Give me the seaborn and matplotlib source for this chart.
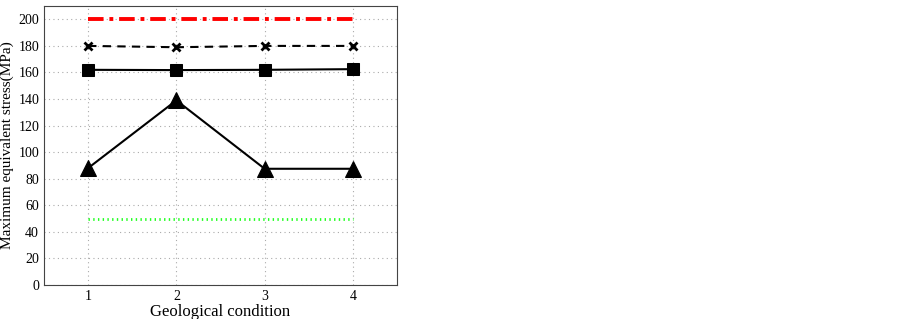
import pandas as pd
import matplotlib.pyplot as plt
import seaborn as sns

conditions = [1, 2, 3, 4]
triangle_vals = [88, 139, 87.5, 87.5]
square_vals = [162, 161.8, 162, 162.5]
cross_vals = [180, 179, 180, 180]
red_vals = [200, 200, 200, 200]
green_vals = [50, 50, 50, 50]

sns.set_style("white")
plt.rcParams["font.family"] = ["Liberation Serif", "DejaVu Serif"]
plt.rcParams["text.color"] = "black"
plt.rcParams["axes.labelcolor"] = "black"

fig = plt.figure(figsize=(9.03, 3.19), dpi=100)
ax = fig.add_axes([0.0487, 0.1066, 0.391, 0.8744])

df = pd.DataFrame({"x": conditions, "tri": triangle_vals, "sq": square_vals,
                   "cr": cross_vals, "red": red_vals, "green": green_vals})

sns.lineplot(data=df, x="x", y="red", ax=ax, color="red", linewidth=2.8,
             linestyle=(0, (4, 1.5, 1, 1.5)))
sns.lineplot(data=df, x="x", y="cr", ax=ax, color="black", linewidth=1.5,
             linestyle=(0, (4, 3)), marker="x", markersize=6, markeredgewidth=2,
             markeredgecolor="black")
sns.lineplot(data=df, x="x", y="sq", ax=ax, color="black", linewidth=1.5,
             marker="s", markersize=8, markeredgecolor="black")
sns.lineplot(data=df, x="x", y="tri", ax=ax, color="black", linewidth=1.5,
             marker="^", markersize=11, markeredgecolor="black")
sns.lineplot(data=df, x="x", y="green", ax=ax, color="#22ff22", linewidth=2,
             linestyle=(0, (0.5, 1.2)))

ax.set_xlim(0.5, 4.5)
ax.set_ylim(0, 210)
ax.set_xticks(conditions)
ax.set_yticks(range(0, 201, 20))
ax.grid(True, linestyle=(0, (1, 3)), color="#aaaaaa", linewidth=0.8)
ax.tick_params(direction="in", length=3, labelsize=10, colors="black")
for s in ax.spines.values():
    s.set_color("#444444")
    s.set_linewidth(0.8)

ax.set_xlabel("Geological condition", fontsize=12, labelpad=1)
ax.set_ylabel("Maximum equivalent stress(MPa)", fontsize=11, labelpad=3)

fig.savefig("out.png", dpi=100)
